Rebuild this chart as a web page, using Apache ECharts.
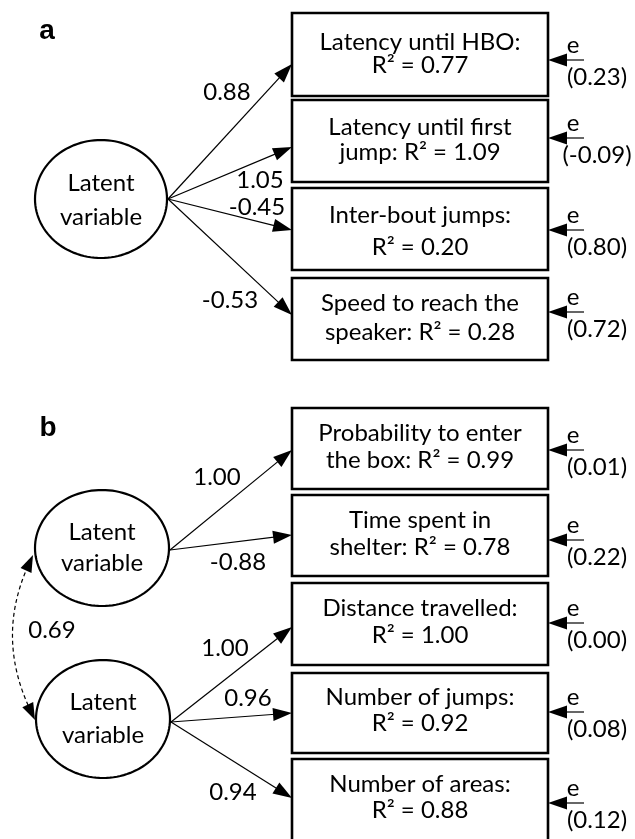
<!DOCTYPE html>
<html>
<head>
<meta charset="utf-8">
<script src="https://cdn.jsdelivr.net/npm/echarts@6/dist/echarts.min.js"></script>
<style>
html, body { margin: 0; padding: 0; background: #fff; }
#main { width: 635px; height: 839px; }
</style>
</head>
<body>
<div id="main"></div>
<script>
// panel a: one latent factor, four indicators
const itemsA = [['Latency until HBO:', ''], ['Latency until first', 'jump: '], ['Inter-bout jumps:', ''], ['Speed to reach the', 'speaker: ']];
const r2A = [0.77, 1.09, 0.20, 0.28];
const loadA = [0.88, 1.05, -0.45, -0.53];
const errA = [0.23, -0.09, 0.80, 0.72];

// panel b: two correlated factors, five indicators
const itemsB = [['Probability to enter', 'the box: '], ['Time spent in', 'shelter: '], ['Distance travelled:', ''], ['Number of jumps:', ''], ['Number of areas:', '']];
const r2B = [0.99, 0.78, 1.00, 0.92, 0.88];
const loadB = [1.00, -0.88, 1.00, 0.96, 0.94];
const errB = [0.01, 0.22, 0.00, 0.08, 0.12];
const factorB = [0, 0, 1, 1, 1];
const covB = 0.69;
const latentLabel = 'Latent\nvariable';
const panelLabels = ['a', 'b'];

// drawing layout in chart units (1 unit = 1 px on the value axes)
const boxX = [292, 548];
const errX = [548, 584];
const layoutA = {
  boxes: [[13, 96], [100, 182], [188, 270], [278, 360]],
  tipY: [64, 147, 230, 315],
  errY: [60, 138, 230, 312],
  textY: [53.5, 139.5, 231, 317.5],
  lh: [23, 25, 32, 29],
  loadPos: [[227, 92], [260, 180], [257, 207], [230, 300]],
  factors: [{ c: [101, 199], r: [66, 59], src: [168, 199], textY: 200, lh: 34 }],
  panel: [47, 31]
};
const layoutB = {
  boxes: [[408, 489], [495, 576], [583, 665], [673, 753], [759, 845]],
  tipY: [450, 535, 627, 713, 798],
  errY: [450, 540, 623, 712, 803],
  textY: [446.5, 533.5, 621.5, 710, 797],
  lh: [27, 27, 27, 26, 26],
  loadPos: [[217, 477], [238, 562], [225, 648], [248, 698], [233, 792]],
  factors: [{ c: [102, 548], r: [67, 58], src: [170, 550], textY: 547.5, lh: 31 },
            { c: [103, 719], r: [67, 59], src: [171, 722], textY: 718.5, lh: 33 }],
  panel: [48, 428],
  cov: { p0: [33, 555], ctrl: [-4, 637], p1: [35, 720], label: [52, 630] }
};

const FONT = '24px Lato';
const fmt = v => v.toFixed(2);

const rows = [];
itemsA.forEach((it, i) => rows.push({ it, r2: r2A[i], load: loadA[i], err: errA[i], L: layoutA, i, f: 0 }));
itemsB.forEach((it, i) => rows.push({ it, r2: r2B[i], load: loadB[i], err: errB[i], L: layoutB, i, f: factorB[i] }));
const factors = [...layoutA.factors, ...layoutB.factors];

function txt(p, text, font, extra) {
  return {
    type: 'text', x: p[0], y: p[1],
    style: Object.assign({ text, font: font || FONT, fill: '#000', align: 'center', verticalAlign: 'middle' }, extra || {})
  };
}

function arrowHead(tip, ux, uy, len, half) {
  const bx = tip[0] - ux * len, by = tip[1] - uy * len;
  return {
    type: 'polygon',
    shape: { points: [tip, [bx - uy * half, by + ux * half], [bx + uy * half, by - ux * half]] },
    style: { fill: '#000' }
  };
}

function arrow(p0, p1) {
  const dx = p1[0] - p0[0], dy = p1[1] - p0[1], d = Math.hypot(dx, dy);
  const ux = dx / d, uy = dy / d;
  return [
    { type: 'line', shape: { x1: p0[0], y1: p0[1], x2: p1[0] - ux * 10, y2: p1[1] - uy * 10 }, style: { stroke: '#000', lineWidth: 1.2 } },
    arrowHead(p1, ux, uy, 19, 6.5)
  ];
}

function renderRow(params, api) {
  const r = rows[params.dataIndex];
  const L = r.L, i = r.i;
  const tl = api.coord([boxX[0], L.boxes[i][0]]);
  const br = api.coord([boxX[1], L.boxes[i][1]]);
  const cx = (boxX[0] + boxX[1]) / 2;
  const fac = L.factors[r.f];
  const kids = [];
  kids.push({
    type: 'rect',
    shape: { x: tl[0], y: tl[1], width: br[0] - tl[0], height: br[1] - tl[1] },
    style: { fill: '#fff', stroke: '#000', lineWidth: 2.6 }
  });
  kids.push(txt(api.coord([cx, L.textY[i]]), r.it[0] + '\n' + r.it[1] + 'R\u00b2 = ' + fmt(r.r2), FONT, { lineHeight: L.lh[i] }));
  kids.push(...arrow(api.coord(fac.src), api.coord([boxX[0], L.tipY[i]])));
  kids.push(txt(api.coord(L.loadPos[i]), fmt(r.load)));
  kids.push(...arrow(api.coord([errX[1], L.errY[i]]), api.coord([errX[0], L.errY[i]])));
  kids.push(txt(api.coord([573, L.errY[i] - 15]), 'e'));
  kids.push(txt(api.coord([597, L.errY[i] + 17]), '(' + fmt(r.err) + ')'));
  return { type: 'group', children: kids };
}

function renderFactor(params, api) {
  const f = factors[params.dataIndex];
  const pts = [];
  for (let k = 0; k < 120; k++) {
    const t = k / 120 * Math.PI * 2;
    pts.push(api.coord([f.c[0] + f.r[0] * Math.cos(t), f.c[1] + f.r[1] * Math.sin(t)]));
  }
  return {
    type: 'group',
    children: [
      { type: 'polygon', shape: { points: pts }, style: { fill: '#fff', stroke: '#000', lineWidth: 2.2 } },
      txt(api.coord([f.c[0], f.textY]), latentLabel, FONT, { lineHeight: f.lh })
    ]
  };
}

function renderExtras(params, api) {
  const c = layoutB.cov;
  const p0 = api.coord(c.p0), q = api.coord(c.ctrl), p1 = api.coord(c.p1);
  const d0 = Math.hypot(p0[0] - q[0], p0[1] - q[1]);
  const d1 = Math.hypot(p1[0] - q[0], p1[1] - q[1]);
  const u0 = [(p0[0] - q[0]) / d0, (p0[1] - q[1]) / d0];
  const u1 = [(p1[0] - q[0]) / d1, (p1[1] - q[1]) / d1];
  return {
    type: 'group',
    children: [
      {
        type: 'bezierCurve',
        shape: { x1: p0[0] - u0[0] * 12, y1: p0[1] - u0[1] * 12, cpx1: q[0], cpy1: q[1], x2: p1[0] - u1[0] * 12, y2: p1[1] - u1[1] * 12 },
        style: { stroke: '#000', lineWidth: 1.2, lineDash: [4, 3], fill: null }
      },
      arrowHead(p0, u0[0], u0[1], 17, 6),
      arrowHead(p1, u1[0], u1[1], 17, 6),
      txt(api.coord(c.label), fmt(covB)),
      txt(api.coord(layoutA.panel), panelLabels[0], 'bold 28px "Liberation Sans"'),
      txt(api.coord(layoutB.panel), panelLabels[1], 'bold 28px "Liberation Sans"')
    ]
  };
}

const chart = echarts.init(document.getElementById('main'), null, { renderer: 'canvas' });
chart.setOption({
  animation: false,
  backgroundColor: '#fff',
  grid: { left: 0, right: 0, top: 0, bottom: 0 },
  xAxis: { type: 'value', min: 0, max: 635, show: false },
  yAxis: { type: 'value', min: 0, max: 839, inverse: true, show: false },
  series: [
    { type: 'custom', silent: true, renderItem: renderRow, data: rows.map((_, i) => [i]) },
    { type: 'custom', silent: true, renderItem: renderFactor, data: factors.map((_, i) => [i]) },
    { type: 'custom', silent: true, renderItem: renderExtras, data: [[0]] }
  ]
});
</script>
</body>
</html>
